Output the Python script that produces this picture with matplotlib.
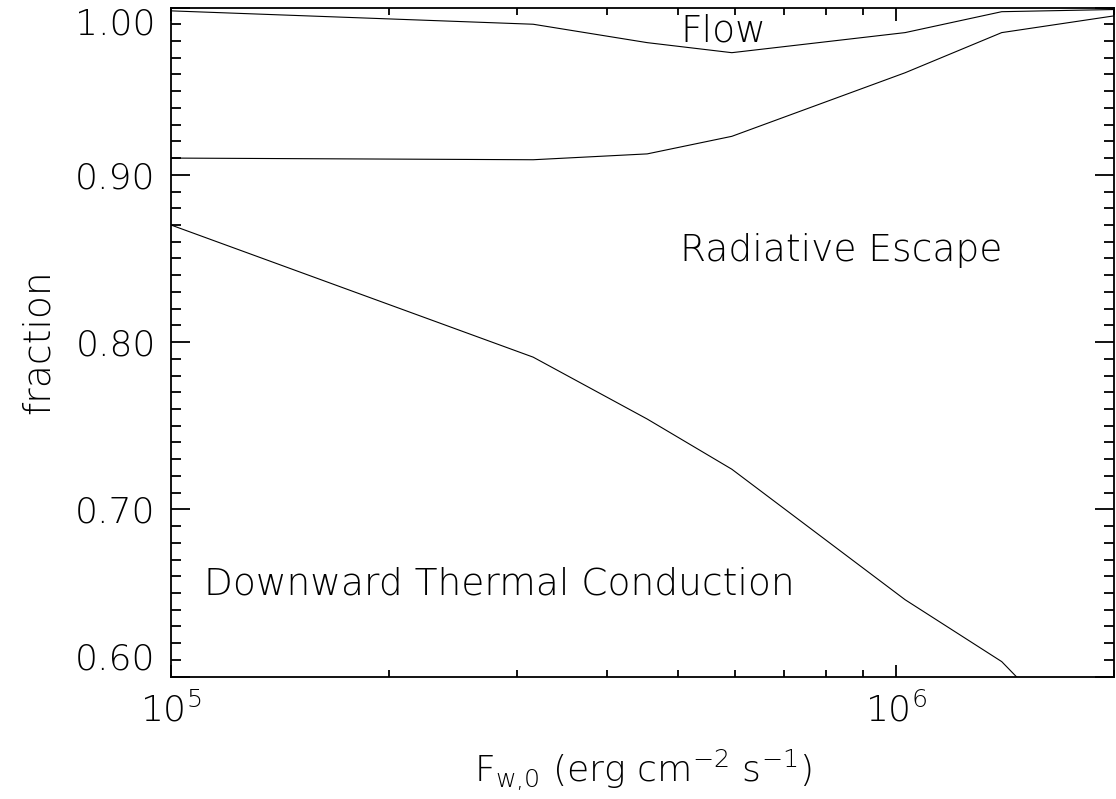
import numpy as np
import matplotlib
matplotlib.use("Agg")
import matplotlib.pyplot as plt
from matplotlib.ticker import FixedLocator, MultipleLocator, FixedFormatter

plt.rcParams['font.family'] = 'DejaVu Sans'
plt.rcParams['font.weight'] = 'light'
plt.rcParams['axes.labelweight'] = 'light'
plt.rcParams['mathtext.fontset'] = 'custom'
plt.rcParams['mathtext.rm'] = 'DejaVu Sans:light'
plt.rcParams['mathtext.it'] = 'DejaVu Sans:light'
plt.rcParams['mathtext.default'] = 'rm'

# energy flux at the base (erg cm^-2 s^-1)
flux = [1.0e5, 3.16e5, 4.54e5, 5.94e5, 1.03e6, 1.40e6, 2.0e6]
# cumulative boundaries between the energy-loss channels
flow_edge = [0.998, 0.990, 0.979, 0.973, 0.985, 0.9975, 0.9988]
rad_edge = [0.910, 0.909, 0.9125, 0.923, 0.961, 0.985, 0.995]
cond_edge = [0.870, 0.791, 0.754, 0.724, 0.646, 0.609, 0.54]

y_ticks = [0.60, 0.70, 0.80, 0.90, 1.00]
y_labels = ["0.60", "0.70", "0.80", "0.90", "1.00"]

fig = plt.figure(figsize=(11.16, 7.99), dpi=100)
ax = fig.add_axes([0.1532, 0.1531, 0.9982 - 0.1532, 0.9906 - 0.1531])

for y in (flow_edge, rad_edge, cond_edge):
    ax.plot(flux, y, color='black', lw=0.8)

ax.set_xscale('log')
ax.set_xlim(1e5, 2e6)
ax.set_ylim(0.60, 1.00)

ax.yaxis.set_major_locator(FixedLocator(y_ticks))
ax.yaxis.set_major_formatter(FixedFormatter(y_labels))
ax.yaxis.set_minor_locator(MultipleLocator(0.01))

ax.tick_params(which='both', direction='in', top=True, right=True,
               labelsize=26, width=1.3, pad=11)
ax.tick_params(axis='y', which='major', length=14)
ax.tick_params(axis='y', which='minor', length=7)
ax.tick_params(axis='x', which='major', length=9)
ax.tick_params(axis='x', which='minor', length=5)
for s in ax.spines.values():
    s.set_linewidth(1.3)

ylab = ax.get_yticklabels()
ylab[0].set_va('bottom')
ylab[-1].set_va('top')

ax.set_ylabel("fraction", fontsize=27, fontweight='light', labelpad=14)
ax.set_xlabel(r"F$_{\rm w{,}0}$ (erg cm$^{-2}$ s$^{-1}$)", fontsize=26,
              fontweight='light', labelpad=14)

ax.text(5.04e5, 0.9794, "Flow", fontsize=27, va='baseline')
ax.text(5.04e5, 0.8487, "Radiative Escape", fontsize=27, va='baseline')
ax.text(1.11e5, 0.6493, "Downward Thermal Conduction", fontsize=27, va='baseline')

fig.savefig("out.png", dpi=100)
